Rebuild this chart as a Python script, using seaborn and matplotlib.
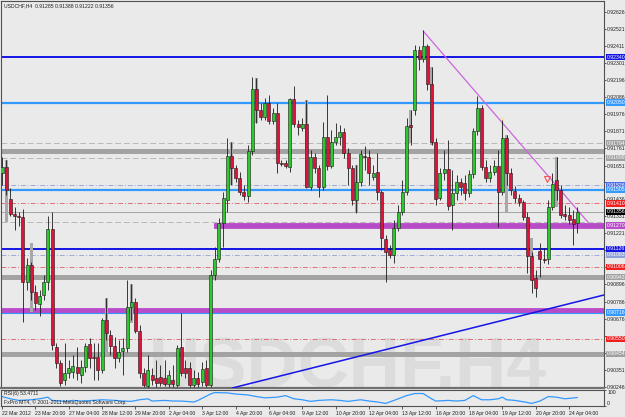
import matplotlib
matplotlib.use('Agg')
import matplotlib.pyplot as plt
import matplotlib.transforms as mtransforms
import seaborn as sns
import pandas as pd
import numpy as np

# ---- USDCHF H4 candles (22 Mar - 24 Apr 2012) ----
bar_open = [
    0.91603, 0.91642, 0.91438, 0.91343, 0.91330, 0.91324, 0.90911, 0.91019, 0.90848, 0.90772,
    0.90829, 0.90911, 0.91248, 0.90499, 0.90397, 0.90289, 0.90333, 0.90340, 0.90372, 0.90321,
    0.90372, 0.90518, 0.90435, 0.90435, 0.90353, 0.90670, 0.90575, 0.90505, 0.90429, 0.90473,
    0.90492, 0.90753, 0.90784, 0.90600, 0.90333, 0.90251, 0.90321, 0.90302, 0.90308, 0.90302,
    0.90264, 0.90289, 0.90257, 0.90499, 0.90365, 0.90365, 0.90257, 0.90302, 0.90276, 0.90365,
    0.90257, 0.90956, 0.91057, 0.91286, 0.91432, 0.91711, 0.91635, 0.91572, 0.91483, 0.91457,
    0.91743, 0.92137, 0.92004, 0.91959, 0.92048, 0.91934, 0.91984, 0.91667, 0.91667, 0.91642,
    0.92073, 0.91915, 0.91889, 0.91915, 0.91515, 0.91705, 0.91635, 0.91515, 0.91832, 0.91648,
    0.91800, 0.91832, 0.91864, 0.91730, 0.91635, 0.91432, 0.91546, 0.91711, 0.91705, 0.91578,
    0.91610, 0.91483, 0.91184, 0.91115, 0.91083, 0.91254, 0.91356, 0.91483, 0.91908, 0.92004,
    0.92385, 0.92327, 0.92410, 0.92169, 0.91800, 0.91445, 0.91603, 0.91629, 0.91400, 0.91476,
    0.91546, 0.91540, 0.91476, 0.91597, 0.91870, 0.92016, 0.91642, 0.91572, 0.91610, 0.91648,
    0.91483, 0.91826, 0.91603, 0.91489, 0.91445, 0.91419, 0.91324, 0.91076, 0.90937, 0.91108,
    0.91057, 0.91057, 0.91388, 0.91559, 0.91496, 0.91343, 0.91337, 0.91311, 0.91285]
bar_high = [
    0.91705, 0.91686, 0.91508, 0.91388, 0.91356, 0.91375, 0.91064, 0.91038, 0.90892, 0.90861,
    0.90956, 0.91330, 0.91356, 0.90524, 0.90416, 0.90524, 0.90416, 0.90448, 0.90499, 0.90416,
    0.90524, 0.90556, 0.90524, 0.90524, 0.90683, 0.90810, 0.90607, 0.90562, 0.90543, 0.90556,
    0.90924, 0.90899, 0.90810, 0.90638, 0.90365, 0.90448, 0.90365, 0.90416, 0.90384, 0.90416,
    0.90353, 0.90384, 0.90511, 0.90714, 0.90416, 0.90403, 0.90353, 0.90340, 0.90403, 0.90416,
    0.90988, 0.91134, 0.91318, 0.91483, 0.91826, 0.91800, 0.91654, 0.91610, 0.91527, 0.91781,
    0.92213, 0.92207, 0.92048, 0.92080, 0.92099, 0.92016, 0.92048, 0.91686, 0.91686, 0.92080,
    0.92156, 0.91940, 0.91953, 0.92067, 0.91750, 0.91730, 0.91654, 0.91927, 0.92099, 0.91877,
    0.91921, 0.91908, 0.91889, 0.91762, 0.91654, 0.91654, 0.91750, 0.91775, 0.91750, 0.91654,
    0.91730, 0.91496, 0.91210, 0.91146, 0.91305, 0.91400, 0.91559, 0.91953, 0.92004, 0.92416,
    0.92410, 0.92512, 0.92423, 0.92277, 0.91826, 0.91635, 0.91750, 0.91813, 0.91623, 0.91591,
    0.91572, 0.91591, 0.91623, 0.91889, 0.92092, 0.92035, 0.91686, 0.91654, 0.91686, 0.91750,
    0.91940, 0.91845, 0.91635, 0.91521, 0.91470, 0.91432, 0.91356, 0.91102, 0.90988, 0.91159,
    0.91127, 0.91432, 0.91603, 0.91705, 0.91527, 0.91400, 0.91388, 0.91369, 0.91388]
bar_low = [
    0.91527, 0.91464, 0.91330, 0.91242, 0.91267, 0.90657, 0.90861, 0.90797, 0.90734, 0.90695,
    0.90797, 0.90861, 0.90480, 0.90365, 0.90251, 0.90257, 0.90302, 0.90302, 0.90289, 0.90270,
    0.90340, 0.90365, 0.90289, 0.90289, 0.90333, 0.90543, 0.90448, 0.90365, 0.90403, 0.90321,
    0.90467, 0.90670, 0.90587, 0.90302, 0.90245, 0.90238, 0.90257, 0.90245, 0.90251, 0.90251,
    0.90245, 0.90245, 0.90245, 0.90314, 0.90302, 0.90245, 0.90245, 0.90245, 0.90251, 0.90245,
    0.90245, 0.90924, 0.91038, 0.91134, 0.91356, 0.91527, 0.91546, 0.91464, 0.91432, 0.91419,
    0.91718, 0.91921, 0.91940, 0.91940, 0.91915, 0.91915, 0.91603, 0.91648, 0.91635, 0.91610,
    0.91896, 0.91845, 0.91870, 0.91508, 0.91496, 0.91603, 0.91451, 0.91496, 0.91623, 0.91635,
    0.91781, 0.91781, 0.91699, 0.91527, 0.91400, 0.91349, 0.91521, 0.91623, 0.91527, 0.91559,
    0.91432, 0.91115, 0.90911, 0.91064, 0.91032, 0.91235, 0.91337, 0.91464, 0.91781, 0.91972,
    0.92258, 0.92308, 0.92131, 0.91781, 0.91400, 0.91432, 0.91559, 0.91369, 0.91242, 0.91432,
    0.91464, 0.91432, 0.91451, 0.91572, 0.91845, 0.91623, 0.91546, 0.91546, 0.91591, 0.91261,
    0.91464, 0.91527, 0.91464, 0.91413, 0.91394, 0.91305, 0.90968, 0.90841, 0.90816, 0.90943,
    0.91032, 0.91026, 0.91369, 0.91432, 0.91318, 0.91305, 0.91280, 0.91146, 0.91222]
bar_close = [
    0.91642, 0.91496, 0.91343, 0.91330, 0.91324, 0.90911, 0.91019, 0.90848, 0.90778, 0.90822,
    0.90911, 0.91248, 0.90511, 0.90397, 0.90270, 0.90333, 0.90365, 0.90378, 0.90333, 0.90372,
    0.90505, 0.90429, 0.90429, 0.90353, 0.90670, 0.90587, 0.90505, 0.90429, 0.90467, 0.90492,
    0.90753, 0.90784, 0.90600, 0.90333, 0.90257, 0.90353, 0.90289, 0.90270, 0.90270, 0.90264,
    0.90321, 0.90264, 0.90492, 0.90333, 0.90333, 0.90257, 0.90302, 0.90264, 0.90359, 0.90257,
    0.90956, 0.91057, 0.91286, 0.91445, 0.91711, 0.91635, 0.91572, 0.91483, 0.91457, 0.91743,
    0.92137, 0.92004, 0.91959, 0.92048, 0.91934, 0.91984, 0.91667, 0.91661, 0.91648, 0.92073,
    0.91915, 0.91896, 0.91915, 0.91515, 0.91705, 0.91635, 0.91515, 0.91832, 0.91648, 0.91800,
    0.91832, 0.91864, 0.91730, 0.91635, 0.91432, 0.91546, 0.91724, 0.91705, 0.91603, 0.91603,
    0.91483, 0.91191, 0.91102, 0.91083, 0.91254, 0.91356, 0.91483, 0.91902, 0.91896, 0.92385,
    0.92327, 0.92410, 0.92169, 0.91800, 0.91438, 0.91603, 0.91629, 0.91394, 0.91476, 0.91546,
    0.91515, 0.91476, 0.91597, 0.91870, 0.92016, 0.91642, 0.91572, 0.91610, 0.91648, 0.91483,
    0.91826, 0.91603, 0.91496, 0.91445, 0.91419, 0.91324, 0.91076, 0.90924, 0.90873, 0.91057,
    0.91051, 0.91388, 0.91534, 0.91496, 0.91337, 0.91330, 0.91305, 0.91280, 0.91356]

# grey "daily" ghost bars behind the H4 candles
ghost_bar = [1, 7, 25, 31, 55, 61, 73, 85, 98, 103, 121, 127, 133]
ghost_top = [0.91686, 0.91159, 0.90810, 0.90899, 0.91800, 0.92207, 0.92067,
             0.91654, 0.92004, 0.92277, 0.91845, 0.91191, 0.91705]
ghost_bot = [0.91292, 0.90721, 0.90448, 0.90651, 0.91527, 0.91921, 0.91515,
             0.91349, 0.91794, 0.91781, 0.91356, 0.90968, 0.91388]
mark_bar = [50, 120]
mark_top = [0.90289, 0.91959]
mark_bot = [0.90238, 0.91826]

# horizontal levels
blue_levels = [0.92340, 0.91121]
lightblue_levels = [0.92050, 0.91496]
lightblue_thin = [0.90714]
grey_bands = [0.91743, 0.90943, 0.90454]
grey_dashed = [0.91794, 0.91699, 0.91292]
steel_dashdot = [0.91527, 0.91083]
red_dashdot = [0.91410, 0.91007, 0.90550]
purple_band_full = [0.90727]
purple_band_part = [0.91270]
bid_price = 0.91356

# trend lines (bar index, price)
blue_trend_bar = [55.2, 144.4]
blue_trend_price = [0.90238, 0.90829]
purple_trend_bar = [101, 140.5]
purple_trend_price = [0.92505, 0.91292]
arrow_bar = [130.8]
arrow_price = [0.91565]

# price scale
tick_prices = [0.92626, 0.92521, 0.92411, 0.92301, 0.92196, 0.92086, 0.91976,
               0.91871, 0.91761, 0.91651, 0.91546, 0.91436, 0.91331, 0.91221,
               0.91116, 0.91006, 0.90896, 0.90786, 0.90676, 0.90571, 0.90461,
               0.90351, 0.90246]
box_price = [0.92340, 0.92050, 0.91794, 0.91699, 0.91527, 0.91496, 0.91410,
             0.91356, 0.91270, 0.91121, 0.91083, 0.91007, 0.90943, 0.90716,
             0.90550, 0.90454]
box_text = ["0.92340", "0.92050", "0.91794", "0.91699", "0.91526", "0.91505",
            "0.91410", "0.91356", "0.91270", "0.91126", "0.91083", "0.91006",
            "0.90943", "0.90716", "0.90550", "0.90454"]
box_color = ["#1414E6", "#3399FF", "#A0A0A0", "#A0A0A0", "#4F6FE8", "#3399FF",
             "#F02020", "#000000", "#B84CC8", "#1414E6", "#8FA0D8", "#F02020",
             "#A0A0A0", "#3399FF", "#F02020", "#A0A0A0"]

# time axis
time_tick_bar = list(range(0, 137, 8))
time_labels = ["22 Mar 2012", "23 Mar 20:00", "27 Mar 04:00", "28 Mar 12:00",
               "29 Mar 20:00", "2 Apr 04:00", "3 Apr 12:00", "4 Apr 20:00",
               "6 Apr 04:00", "9 Apr 12:00", "10 Apr 20:00", "12 Apr 04:00",
               "13 Apr 12:00", "16 Apr 20:00", "18 Apr 04:00", "19 Apr 12:00",
               "20 Apr 20:00", "24 Apr 04:00"]

# RSI(6) readings
rsi_bar = [0, 2, 4, 7, 9, 11, 12, 15, 17, 19, 22, 24, 27, 29, 31, 33, 35, 36,
           39, 41, 43, 46, 47, 50, 51, 54, 56, 59, 61, 63, 66, 68, 70, 72, 74,
           76, 79, 81, 83, 86, 88, 90, 92, 94, 97, 99, 101, 103, 104, 107, 109,
           111, 113, 115, 117, 119, 120, 121, 123, 126, 127, 129, 131, 133, 135, 138]
rsi_val = [59, 45, 35, 39, 45, 55, 35, 29, 35, 31, 35, 39, 35, 31, 29, 39, 45, 31,
           35, 31, 31, 25, 35, 75, 84, 82, 75, 69, 59, 51, 55, 65, 45, 39, 29,
           35, 39, 35, 29, 39, 31, 25, 16, 35, 65, 78, 78, 45, 31, 35, 31,
           35, 65, 39, 39, 45, 55, 39, 35, 22, 16, 31, 59, 55, 45, 53]

BG = "#EAEAEA"
FS = 3.7
sns.set_theme(style="white", rc={
    "axes.facecolor": BG,
    "figure.facecolor": BG,
    "axes.edgecolor": "#505050",
})
plt.rcParams['font.family'] = ['Liberation Sans', 'DejaVu Sans']

W, H = 625, 417
fig = plt.figure(figsize=(W / 100, H / 100), dpi=100)
ax = fig.add_axes([1 / W, 1 - 388 / H, 603 / W, 387 / H])
ax2 = fig.add_axes([1 / W, 1 - 406 / H, 603 / W, 16 / H])

df = pd.DataFrame({'open': bar_open, 'high': bar_high,
                   'low': bar_low, 'close': bar_close})
df['bar'] = np.arange(len(df))
up = df['close'] >= df['open']
body_lo = df[['open', 'close']].min(axis=1)
body_h = (df['close'] - df['open']).abs().clip(lower=0.000012)

# watermark
ax.text(0.245, 0.003, 'USDCHF,H4', transform=ax.transAxes, fontsize=51,
        fontweight='bold', color='#DCDCDC', ha='left', va='baseline',
        zorder=0.5, clip_on=True)

# levels
for p in grey_bands:
    ax.axhline(p, color='#A3A3A3', lw=3.6, zorder=1)
for p in grey_dashed:
    ax.axhline(p, color='#B8B8B8', lw=0.7, ls=(0, (6, 3)), zorder=1)
for p in steel_dashdot:
    ax.axhline(p, color='#9AAAD8', lw=0.7, ls=(0, (5, 2, 1, 2)), zorder=1)
for p in red_dashdot:
    ax.axhline(p, color='#E07070', lw=0.7, ls=(0, (5, 2, 1, 2)), zorder=1)
for p in purple_band_full:
    ax.axhline(p, color='#B84CC8', lw=4.2, zorder=1)
for p in purple_band_part:
    ax.hlines(p, 50.8, 150, color='#B84CC8', lw=4.2, zorder=1)
for p in lightblue_thin:
    ax.axhline(p, color='#3399FF', lw=0.8, zorder=1.1)
for p in lightblue_levels:
    ax.axhline(p, color='#3399FF', lw=1.6, zorder=1)
for p in blue_levels:
    ax.axhline(p, color='#1414E6', lw=1.4, zorder=1)
ax.axhline(bid_price, color='#9A9A9A', lw=0.6, zorder=1)

# ghost bars
ax.bar(ghost_bar, np.subtract(ghost_top, ghost_bot), bottom=ghost_bot,
       width=0.8, color='#A8A8A8', lw=0, zorder=2)
ax.bar(mark_bar, np.subtract(mark_top, mark_bot), bottom=mark_bot,
       width=0.9, color='#F5E6A0', lw=0, zorder=2)

# candles
ax.vlines(df['bar'], df['low'], df['high'], color='#1A1A1A', lw=0.6, zorder=4)
ax.bar(df['bar'][up], body_h[up], bottom=body_lo[up], width=0.72,
       color='#2DC82D', edgecolor='#1A1A1A', lw=0.4, zorder=5)
ax.bar(df['bar'][~up], body_h[~up], bottom=body_lo[~up], width=0.72,
       color='#DC143C', edgecolor='#1A1A1A', lw=0.4, zorder=5)

# trend lines
ax.plot(blue_trend_bar, blue_trend_price, color='#1414E6', lw=1.1, zorder=3)
ax.plot(purple_trend_bar, purple_trend_price, color='#CC66DD', lw=0.9, zorder=3)
ax.plot(arrow_bar, arrow_price, marker='v', ms=5, mfc='none',
        mec='#FF5050', mew=0.8, zorder=6)

ax.set_xlim(-0.24, 144.36)
ax.set_ylim(0.90238, 0.92696)
ax.set_xticks([])
ax.yaxis.tick_right()
ax.set_yticks(tick_prices)
# labels that sit under a coloured price box are not shown
tick_text = [f"{p:.5f}" if np.min(np.abs(np.subtract(box_price, p))) > 0.00022 else ""
             for p in tick_prices]
ax.set_yticklabels(tick_text)
ax.tick_params(axis='y', right=True, left=False, labelsize=FS, length=1.5,
               width=0.5, pad=0.8, colors='#202020')
for s in ax.spines.values():
    s.set_linewidth(0.8)
ax.spines['bottom'].set_linewidth(1.6)
ax.spines['bottom'].set_color('#707070')

trans = mtransforms.blended_transform_factory(ax.transAxes, ax.transData)
for p, t, c in zip(box_price, box_text, box_color):
    ax.text(1.004, p, t, transform=trans, ha='left', va='center', fontsize=FS,
            color='white', clip_on=False, zorder=10,
            bbox=dict(boxstyle='square,pad=0.15', fc=c, ec='none'))

ax.text(0.005, 0.987, 'USDCHF,H4  0.91285 0.91388 0.91222 0.91356',
        transform=ax.transAxes, fontsize=FS, color='#202020', va='center')

# RSI panel
sns.lineplot(x=rsi_bar, y=rsi_val, ax=ax2, color='#3399FF', lw=0.9)
ax2.set_xlim(-0.24, 144.36)
ax2.set_ylim(0, 100)
ax2.yaxis.tick_right()
ax2.set_yticks([100, 0])
ax2.set_yticklabels(['100', '0'])
ax2.tick_params(axis='y', right=True, left=False, labelsize=FS, length=1.5,
                width=0.5, pad=0.8, colors='#202020')
ylabs = ax2.get_yticklabels()
ylabs[0].set_va('top')
ylabs[1].set_va('bottom')
ax2.set_xticks(time_tick_bar)
ax2.set_xticklabels(time_labels, ha='left')
ax2.tick_params(axis='x', bottom=True, labelsize=FS, length=2, width=0.5,
                pad=1.5, colors='#202020')
ax2.set_xlabel('')
ax2.set_ylabel('')
for s in ax2.spines.values():
    s.set_linewidth(0.8)
ax2.text(0.005, 0.78, 'RSI(6) 53.4711', transform=ax2.transAxes,
         fontsize=FS, color='#202020', va='center')
ax2.text(0.005, 0.22, 'FxPro MT4, \u00a9 2001-2011 MetaQuotes Software Corp.',
         transform=ax2.transAxes, fontsize=FS, color='#202020', va='center')

fig.savefig('out.png', dpi=100, facecolor=BG)
